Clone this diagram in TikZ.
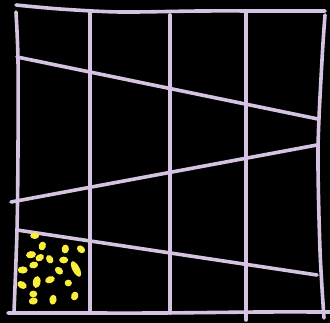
\documentclass[tikz,border=0pt]{standalone}
\usepackage{tikz}
\definecolor{gridlilac}{RGB}{212,196,226}
\definecolor{seedyellow}{RGB}{250,238,60}

\begin{document}
\begin{tikzpicture}[x=1pt,y=-1pt,
  stroke/.style={draw=gridlilac, line width=3.6pt, line cap=round, line join=round},
  seed/.style={fill=seedyellow},
]
\fill[black] (0,0) rectangle (330,323);
\useasboundingbox (0,0) rectangle (330,323);

% frame
\draw[stroke] plot[smooth] coordinates {(16,5) (60,9) (120,12) (200,11) (270,11) (325,11)};
\draw[stroke] plot[smooth] coordinates {(16,12) (18,60) (18,150) (17,230) (14,312)};
\draw[stroke] plot[smooth] coordinates {(8,313) (60,313) (160,313) (260,312) (330,312)};
\draw[stroke] plot[smooth] coordinates {(325,15) (322,60) (318,150) (320,250) (324,318)};

% columns
\draw[stroke] (90,12) -- (90,313);
\draw[stroke] (170,15) -- (170,313);
\draw[stroke] (246,13) -- (246,320);

% slanted rows
\draw[stroke] (17,57) -- (318,119);
\draw[stroke] (11,202) -- (317,145);
\draw[stroke] (17,230) -- (317,275);

% seeds in the corner cell
\foreach \x/\y/\a/\rx/\ry in {34.7/235.7/0/4.5/3.3, 42.3/246/70/4.5/3.6, 65.3/249/80/4.5/3.6,
    81/249.3/-40/4.5/3.4, 31/254.7/10/5/3.6, 39.7/257.7/30/4.5/3.4, 49.7/259.3/-60/4.5/3.4,
    63.7/260/0/4.5/3.4, 33.7/265/15/4.5/3.4, 22.7/270/0/5/3.6, 59/270.7/-40/4.5/3.4,
    76/269/-62/8.5/3.6, 50/279.7/20/5/3.4, 36.7/282/80/6/3.8, 22/285/-30/5/3.6,
    68.3/283/0/3.6/3.4, 33.3/294/0/4/3.4, 33.3/301/10/4.5/3.6, 53/299.7/80/5/3.6,
    74.7/296/70/4.5/3.6} {
  \fill[seed, rotate around={\a:(\x,\y)}] (\x,\y) ellipse ({\rx} and {\ry});
}
\end{tikzpicture}
\end{document}
